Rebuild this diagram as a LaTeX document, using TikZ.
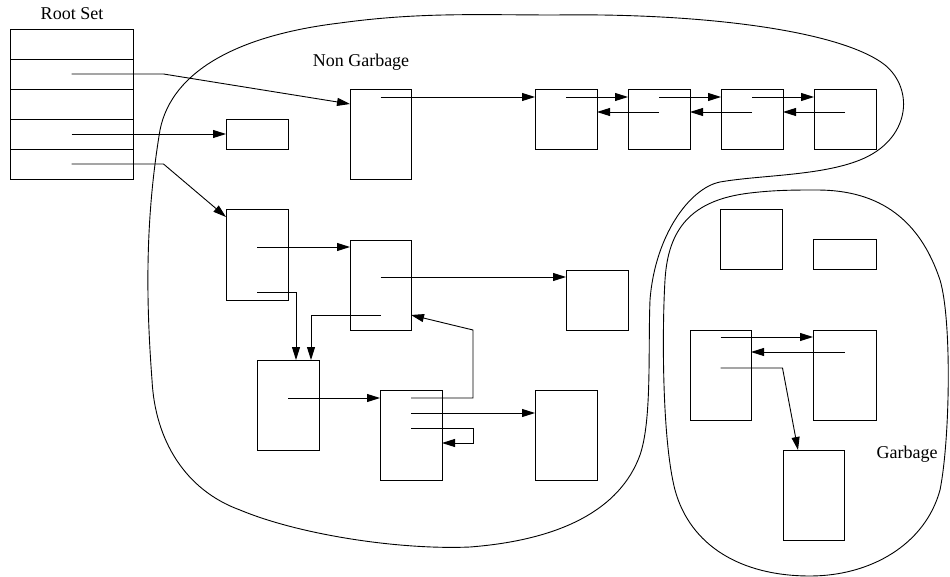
\documentclass[tikz,border=0pt]{standalone}
\usepackage{fontspec}
\setmainfont{Liberation Serif}
\usetikzlibrary{arrows.meta,calc}

\tikzset{
  cell/.style={draw, rectangle, anchor=north west, inner sep=0pt, outer sep=0pt, line width=0.9pt},
  ptr/.style={line width=0.9pt, -{Triangle[length=13pt,width=8pt]}},
  region/.style={line width=0.9pt},
  lbl/.style={anchor=base, font=\fontsize{18}{22}\selectfont, inner sep=0pt},
}

\begin{document}
\begin{tikzpicture}[x=1pt, y=-1pt]
\useasboundingbox (0,0) rectangle (950,577);

% reachable region
\draw[region] (556,15)
  .. controls (700,13) and (840,30) .. (885,65)
  .. controls (915,90) and (910,140) .. (860,160)
  .. controls (820,176) and (760,175) .. (720,182)
  .. controls (690,188) and (655,235) .. (650,300)
  .. controls (648,350) and (652,420) .. (640,455)
  .. controls (620,510) and (560,540) .. (470,547)
  .. controls (400,550) and (300,535) .. (240,510)
  .. controls (185,490) and (155,440) .. (152,380)
  .. controls (146,300) and (145,220) .. (160,130)
  .. controls (172,70) and (240,35) .. (340,23)
  .. controls (420,12) and (480,15) .. (556,15) -- cycle;

% unreachable region
\draw[region] (817,190)
  .. controls (880,190) and (920,220) .. (940,280)
  .. controls (952,320) and (950,440) .. (940,490)
  .. controls (925,545) and (870,576) .. (810,576)
  .. controls (740,576) and (690,545) .. (675,490)
  .. controls (662,440) and (662,330) .. (665,280)
  .. controls (668,230) and (690,200) .. (750,193)
  .. controls (775,190) and (795,190) .. (817,190) -- cycle;

% root set
\foreach \i [evaluate=\i as \yy using 29+30*(\i-1)] in {1,...,5}
  \node[cell, minimum width=123pt, minimum height=30pt] (R\i) at (10,\yy) {};

% objects
\node[cell, minimum width=61pt, minimum height=90pt] (A)  at (350,89)  {};
\node[cell, minimum width=62pt, minimum height=30pt] (S)  at (226,119) {};
\node[cell, minimum width=62pt, minimum height=60pt] (B1) at (535,89)  {};
\node[cell, minimum width=62pt, minimum height=60pt] (B2) at (628,89)  {};
\node[cell, minimum width=62pt, minimum height=60pt] (B3) at (721,89)  {};
\node[cell, minimum width=62pt, minimum height=60pt] (B4) at (814,89)  {};
\node[cell, minimum width=62pt, minimum height=91pt] (C)  at (226,209) {};
\node[cell, minimum width=61pt, minimum height=90pt] (D)  at (350,240) {};
\node[cell, minimum width=62pt, minimum height=60pt] (E)  at (566,270) {};
\node[cell, minimum width=62pt, minimum height=90pt] (F)  at (257,360) {};
\node[cell, minimum width=62pt, minimum height=90pt] (G)  at (380,390) {};
\node[cell, minimum width=62pt, minimum height=90pt] (H)  at (535,390) {};
\node[cell, minimum width=62pt, minimum height=60pt] (I)  at (720,209) {};
\node[cell, minimum width=63pt, minimum height=30pt] (J)  at (813,239) {};
\node[cell, minimum width=61pt, minimum height=90pt] (K)  at (690,330) {};
\node[cell, minimum width=63pt, minimum height=90pt] (L)  at (813,330) {};
\node[cell, minimum width=61pt, minimum height=90pt] (M)  at (783,450) {};

% labels
\node[lbl] (tRoot) at (72,20)   {Root Set};
\node[lbl] (tNon)  at (361,67)  {Non Garbage};
\node[lbl] (tGar)  at (907,458) {Garbage};

% roots
\draw[ptr] (R2.center) -- ++(92,0) -- ($(A.north west)+(0,15)$);
\draw[ptr] (R4.center) -- (S.west);
\draw[ptr] (R5.center) -- ++(92,0) -- ($(C.north west)+(0,8)$);

% doubly linked chain
\draw[ptr] ($(A.north)+(0,8)$) -- ($(B1.north west)+(0,8)$);
\draw[ptr] ($(B1.north)+(0,8)$) -- ($(B2.north west)+(0,8)$);
\draw[ptr] ($(B2.north)+(0,8)$) -- ($(B3.north west)+(0,8)$);
\draw[ptr] ($(B3.north)+(0,8)$) -- ($(B4.north west)+(0,8)$);
\draw[ptr] ($(B2.north)+(0,23)$) -- ($(B1.north east)+(0,23)$);
\draw[ptr] ($(B3.north)+(0,23)$) -- ($(B2.north east)+(0,23)$);
\draw[ptr] ($(B4.north)+(0,23)$) -- ($(B3.north east)+(0,23)$);

% reachable graph
\draw[ptr] ($(C.north)+(0,38)$) -- ($(D.north west)+(0,7)$);
\draw[ptr] ($(C.north)+(0,83)$) -| ($(F.north west)+(39,0)$);
\draw[ptr] ($(D.north)+(0,37)$) -- ($(E.north west)+(0,7)$);
\draw[ptr] ($(D.north)+(0,75)$) -| ($(F.north west)+(54,0)$);
\draw[ptr] ($(F.north)+(0,38)$) -- ($(G.north west)+(0,8)$);
\draw[ptr] ($(G.north)+(0,8)$) -- ++(62,0) -- ++(0,-68) -- ($(D.north east)+(0,75)$);
\draw[ptr] ($(G.north)+(0,23)$) -- ($(H.north west)+(0,23)$);
\draw[ptr] ($(G.north)+(0,38)$) -- ++(62,0) |- ($(G.north east)+(0,53)$);

% unreachable cycle
\draw[ptr] ($(K.north)+(0,7)$) -- ($(L.north west)+(0,7)$);
\draw[ptr] ($(L.north)+(0,22)$) -- ($(K.north east)+(0,22)$);
\draw[ptr] ($(K.north)+(0,38)$) -- ++(62,0) -- ($(M.north west)+(15,0)$);
\end{tikzpicture}
\end{document}
